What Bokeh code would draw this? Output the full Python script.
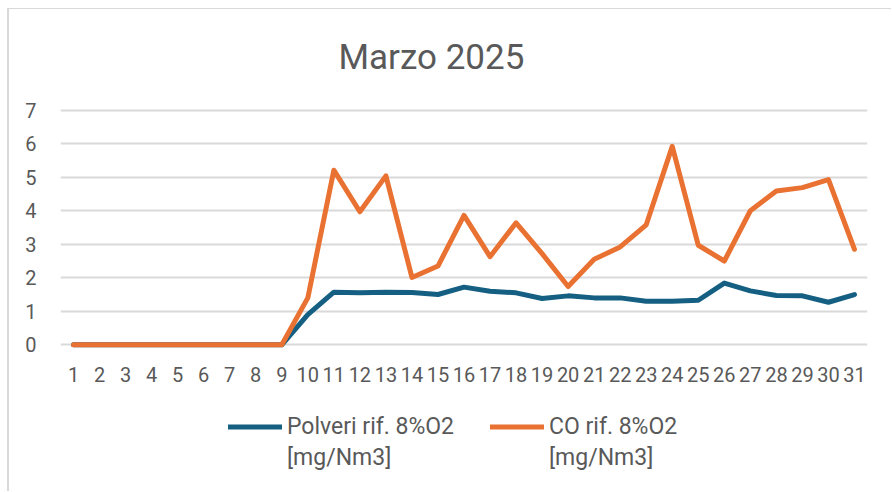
from bokeh.plotting import figure
from bokeh.models import Range1d, FixedTicker, Legend, LegendItem, ColumnDataSource
from bokeh.layouts import column
from bokeh.embed import file_html
from bokeh.resources import INLINE

days = list(range(1, 32))
day_labels = [str(d) for d in days]
polveri = [0, 0, 0, 0, 0, 0, 0, 0, 0, 0.90, 1.57, 1.55, 1.57, 1.56, 1.50, 1.72,
           1.60, 1.55, 1.38, 1.46, 1.40, 1.40, 1.30, 1.30, 1.33, 1.84, 1.61,
           1.47, 1.46, 1.27, 1.50]
co = [0, 0, 0, 0, 0, 0, 0, 0, 0, 1.40, 5.21, 3.97, 5.04, 2.01, 2.35, 3.86,
      2.63, 3.64, 2.72, 1.74, 2.55, 2.92, 3.58, 5.92, 2.97, 2.50, 4.00, 4.59,
      4.69, 4.93, 2.85]
y_ticks = [0, 1, 2, 3, 4, 5, 6, 7]
title_text = "Marzo 2025"
label_polveri = ["Polveri rif. 8%O2", "[mg/Nm3]"]
label_co = ["CO rif. 8%O2", "[mg/Nm3]"]

FONT = "Roboto"
TXT = "#595959"
BLUE = "#156082"
ORANGE = "#E97132"

src = ColumnDataSource(dict(day=days, polveri=polveri, co=co))

# ---- main chart ----
p = figure(width=882, height=382, output_backend="svg", toolbar_location=None,
           x_range=Range1d(0.5, 31.5), y_range=Range1d(-0.2, 7.2),
           min_border_left=51, min_border_right=24, min_border_top=91,
           min_border_bottom=40)
p.outline_line_color = None
p.background_fill_color = "white"
p.border_fill_color = "white"

p.title.text = title_text
p.title.text_font = FONT
p.title.text_font_size = "35px"
p.title.text_font_style = "normal"
p.title.text_color = TXT
p.title.align = "left"
p.title.offset = 278
p.title.standoff = 51

p.line("day", "polveri", source=src, line_color=BLUE, line_width=5, line_join="round", line_cap="round")
p.line("day", "co", source=src, line_color=ORANGE, line_width=5, line_join="round", line_cap="round")

p.xgrid.grid_line_color = None
p.ygrid.grid_line_color = "#d9d9d9"
p.ygrid.grid_line_width = 2
p.yaxis.ticker = FixedTicker(ticks=y_ticks)
p.xaxis.ticker = FixedTicker(ticks=days)
p.xaxis.major_label_overrides = {d: l for d, l in zip(days, day_labels)}

for ax in (p.xaxis[0], p.yaxis[0]):
    ax.axis_line_color = None
    ax.major_tick_line_color = None
    ax.minor_tick_line_color = None
    ax.major_label_text_font = FONT
    ax.major_label_text_font_size = "20px"
    ax.major_label_text_color = TXT
p.yaxis.major_label_standoff = 18
p.xaxis.major_label_standoff = 9

# ---- legend strip (its series are out of view; only the legend shows) ----
lg = figure(width=882, height=100, output_backend="svg", toolbar_location=None,
            x_range=Range1d(-2, -1), y_range=Range1d(-2, -1),
            x_axis_type=None, y_axis_type=None,
            min_border=0, min_border_left=0, min_border_right=0,
            min_border_top=0, min_border_bottom=0)
lg.outline_line_color = None
lg.grid.grid_line_color = None
lg.background_fill_color = "white"
lg.border_fill_color = "white"
k1 = lg.line("day", "polveri", source=src, line_color=BLUE, line_width=5, line_cap="round")
k2 = lg.line("day", "co", source=src, line_color=ORANGE, line_width=5, line_cap="round")
k3 = lg.line("day", "polveri", source=src, line_alpha=0)
k4 = lg.line("day", "co", source=src, line_alpha=0)

legend = Legend(items=[LegendItem(label=label_polveri[0], renderers=[k1]),
                       LegendItem(label=label_co[0], renderers=[k2]),
                       LegendItem(label=label_polveri[1], renderers=[k3]),
                       LegendItem(label=label_co[1], renderers=[k4])],
                orientation="horizontal", ncols=2, location=(168, 18))
legend.label_text_font = FONT
legend.label_text_font_size = "23px"
legend.label_text_color = TXT
legend.glyph_width = 54
legend.glyph_height = 31
legend.label_height = 31
legend.label_width = 203
legend.label_standoff = 5
legend.spacing = 0
legend.padding = 0
legend.margin = 0
legend.border_line_color = None
legend.background_fill_alpha = 0
lg.add_layout(legend, "center")

layout = column(p, lg, spacing=0,
                styles={"margin-left": "7px", "margin-top": "8px",
                        "border-left": "2px solid #d9d9d9",
                        "border-top": "1px solid #d9d9d9"})

open("out.html", "w").write(file_html(layout, INLINE))
